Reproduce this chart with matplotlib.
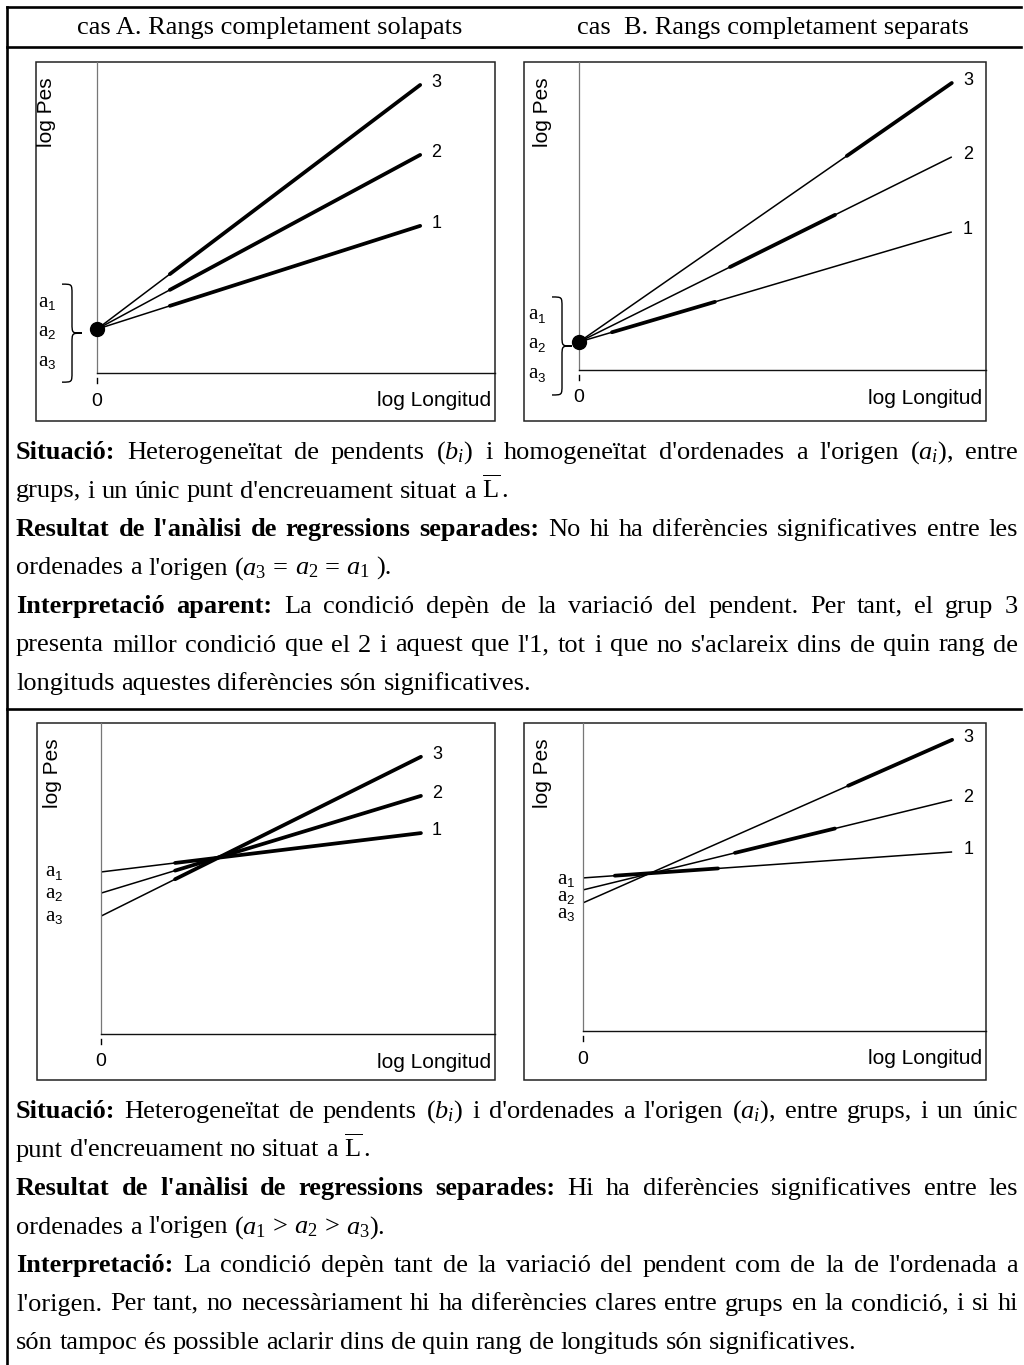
import matplotlib
matplotlib.use('Agg')
import matplotlib.pyplot as plt
from matplotlib.patches import Rectangle, PathPatch
from matplotlib.path import Path

plt.rcParams['font.family'] = ['Liberation Serif', 'DejaVu Serif']
plt.rcParams['mathtext.fontset'] = 'custom'
plt.rcParams['mathtext.rm'] = 'Liberation Serif'
plt.rcParams['mathtext.it'] = 'Liberation Serif:italic'
plt.rcParams['mathtext.bf'] = 'Liberation Serif:bold'

grups = ['1', '2', '3']

# cas A, rangs solapats, ordenada comuna
a_A1 = [1.41, 1.41, 1.41]
b_A1 = [0.409, 0.690, 0.967]
rang_A1 = [(1.83, 8.12), (1.83, 8.12), (1.83, 8.12)]
xmax_A1 = 8.12

# cas B, rangs separats, ordenada comuna
a_B1 = [0.91, 0.91, 0.91]
b_B1 = [0.390, 0.656, 0.918]
rang_B1 = [(0.81, 3.34), (3.71, 6.29), (6.58, 9.16)]
xmax_B1 = 9.16

# cas A, encreuament fora de L
a_A2 = [5.21, 4.53, 3.79]
b_A2 = [0.154, 0.385, 0.631]
rang_A2 = [(1.88, 8.12), (1.88, 8.12), (1.88, 8.12)]
xmax_A2 = 8.12

# cas B, encreuament fora de L
a_B2 = [4.97, 4.58, 4.16]
b_B2 = [0.092, 0.319, 0.578]
rang_B2 = [(0.79, 3.35), (3.77, 6.25), (6.58, 9.16)]
xmax_B2 = 9.16

capcalera = ["cas A. Rangs completament solapats", "cas  B. Rangs completament separats"]

text_sup = [
    ("Situació:", "Heterogeneïtat de pendents ($b_i$) i homogeneïtat d'ordenades a l'origen ($a_i$), entre", True),
    ("", "grups, i un únic punt d'encreuament situat a $\\overline{\\mathrm{L}}\\,$.", False),
    ("Resultat de l'anàlisi de regressions separades:", "No hi ha diferències significatives entre les", True),
    ("", "ordenades a l'origen ($a_{\\mathit{3}}$ = $a_{\\mathit{2}}$ = $a_{\\mathit{1}}$ ).", False),
    ("Interpretació aparent:", "La condició depèn de la variació del pendent. Per tant, el grup 3", True),
    ("", "presenta millor condició que el 2 i aquest que l'1, tot i que no s'aclareix dins de quin rang de", True),
    ("", "longituds aquestes diferències són significatives.", False),
]
text_inf = [
    ("Situació:", "Heterogeneïtat de pendents ($b_i$) i d'ordenades a l'origen ($a_i$), entre grups, i un únic", True),
    ("", "punt d'encreuament no situat a $\\overline{\\mathrm{L}}\\,$.", False),
    ("Resultat de l'anàlisi de regressions separades:", "Hi ha diferències significatives entre les", True),
    ("", "ordenades a l'origen ($a_{\\mathit{1}}$ > $a_{\\mathit{2}}$ > $a_{\\mathit{3}}$).", False),
    ("Interpretació:", "La condició depèn tant de la variació del pendent com de la de l'ordenada a", True),
    ("", "l'origen. Per tant, no necessàriament hi ha diferències clares entre grups en la condició, i si hi", True),
    ("", "són tampoc és possible aclarir dins de quin rang de longituds són significatives.", False),
]

W, H = 1024, 1365
FS = 19
SANS = 'Liberation Sans'

fig = plt.figure(figsize=(W / 100, H / 100), dpi=100)
page = fig.add_axes([0, 0, 1, 1])
page.set_xlim(0, W)
page.set_ylim(H, 0)
page.axis('off')

# marc de la taula
lwm = 1.9
page.plot([7, 1021], [7, 7], color='k', lw=lwm)
page.plot([7, 1021], [47, 47], color='k', lw=lwm)
page.plot([7, 1021], [709, 709], color='k', lw=lwm)
page.plot([7, 7], [7, H], color='k', lw=lwm)

page.text(270, 28, capcalera[0], fontsize=FS, ha='center', va='center')
page.text(773, 28, capcalera[1], fontsize=FS, ha='center', va='center')


def pix(ax, x, y):
    X, Y = ax.transData.transform((x, y))
    return X, H - Y


def etiqueta_a(x, y, i):
    page.text(x, y, 'a', fontsize=15, ha='left', va='center')
    page.text(x + 9.5, y + 5, str(i), fontsize=9.5, family=SANS, ha='left', va='center')


def clau(xl, xm, xt, ym, h):
    yt, yb, r = ym - h, ym + h, 10
    verts = [(xl, yt), (xm, yt), (xm, yt), (xm, yt + r),
             (xm, ym - r),
             (xm, ym), (xm, ym), (xt, ym),
             (xm, ym), (xm, ym), (xm, ym + r),
             (xm, yb - r),
             (xm, yb), (xm, yb), (xl, yb)]
    codes = [Path.MOVETO] + [Path.CURVE4] * 3 + [Path.LINETO] + [Path.CURVE4] * 6 + [Path.LINETO] + [Path.CURVE4] * 3
    page.add_patch(PathPatch(Path(verts, codes), fill=False, lw=1.0, ec='k'))


def panell(caixa, interior, a, b, rang, xmax, xpes, xa, punt=False, sep=None):
    x0, y0, x1, y1 = caixa
    l, t, r, bt = interior
    page.add_patch(Rectangle((x0, y0), x1 - x0, y1 - y0, fill=False, lw=1.1, ec='#222'))
    ax = fig.add_axes([l / W, 1 - bt / H, (r - l) / W, (bt - t) / H])
    ax.set_xlim(0, 10)
    ax.set_ylim(0, 10)
    ax.set_xticks([])
    ax.set_yticks([])
    ax.patch.set_alpha(0)
    ax.spines[['top', 'right']].set_visible(False)
    ax.spines['left'].set_color('#777')
    ax.spines['left'].set_linewidth(0.9)
    ax.spines['bottom'].set_color('#111')
    ax.spines['bottom'].set_linewidth(1.0)
    for g, ai, bi, (g0, g1) in zip(grups, a, b, rang):
        ax.plot([0, xmax], [ai, ai + bi * xmax], color='k', lw=1.1, solid_capstyle='butt')
        ax.plot([g0, g1], [ai + bi * g0, ai + bi * g1], color='k', lw=2.7, solid_capstyle='round')
        ax.annotate(g, (xmax, ai + bi * xmax), xytext=(8, 2), textcoords='offset points',
                    fontsize=13, family=SANS, ha='left', va='center')
    # etiquetes d'ordenada
    yint = [pix(ax, 0, ai)[1] for ai in a]
    if punt:
        ax.plot([0], [a[0]], 'o', color='k', ms=10, clip_on=False, zorder=5)
        ym = yint[0]
        clau(xa + 24, xa + 34, xa + 44, ym + 4, 49)
        for i, dy in zip(grups, [-27, 2, 32]):
            etiqueta_a(xa, ym + dy, i)
    elif sep is not None:
        ym = sum(yint) / 3 + 6
        for i, dy in zip(grups, [-sep, 0, sep]):
            etiqueta_a(xa, ym + dy, i)
    else:
        for i, y in zip(grups, yint):
            etiqueta_a(xa, y, i)
    # eixos
    page.plot([l, l], [bt + 5, bt + 10], color='k', lw=1.0)
    page.text(l, bt + 28, '0', fontsize=14, family=SANS, ha='center', va='center')
    page.text(r - 4, bt + 28, 'log Longitud', fontsize=15, family=SANS, ha='right', va='center')
    page.text(xpes, t + 50, 'log Pes', fontsize=15, family=SANS, rotation=90, ha='center', va='center')
    return ax


panell((36, 62, 495, 421), (97, 62, 495, 373), a_A1, b_A1, rang_A1, xmax_A1, 47, 38, punt=True)
panell((524, 62, 986, 421), (579, 62, 986, 370), a_B1, b_B1, rang_B1, xmax_B1, 542, 528, punt=True)
panell((37, 723, 495, 1080), (101, 723, 495, 1034), a_A2, b_A2, rang_A2, xmax_A2, 53, 45)
panell((524, 723, 986, 1080), (583, 723, 986, 1031), a_B2, b_B2, rang_B2, xmax_B2, 542, 557, sep=17)

# text justificat
XE, XD = 16, 1018
rend = fig.canvas.get_renderer()


def linia(y, negreta, resta, justifica):
    paraules = [(p, 'bold') for p in negreta.split()] + [(p, 'normal') for p in resta.split()]
    arts = [page.text(0, y, p, fontsize=FS, fontweight=w, va='baseline', ha='left') for p, w in paraules]
    amples = [t.get_window_extent(rend).width for t in arts]
    if justifica:
        gap = (XD - XE - sum(amples)) / (len(arts) - 1)
    else:
        gap = FS * 100 / 72 * 0.25
    x = XE
    for t, w in zip(arts, amples):
        t.set_x(x)
        x += w + gap


for k, (n, rr, j) in enumerate(text_sup):
    linia(459 + k * 38.5, n, rr, j)
for k, (n, rr, j) in enumerate(text_inf):
    linia(1118 + k * 38.5, n, rr, j)

fig.savefig('out.png', dpi=100)
